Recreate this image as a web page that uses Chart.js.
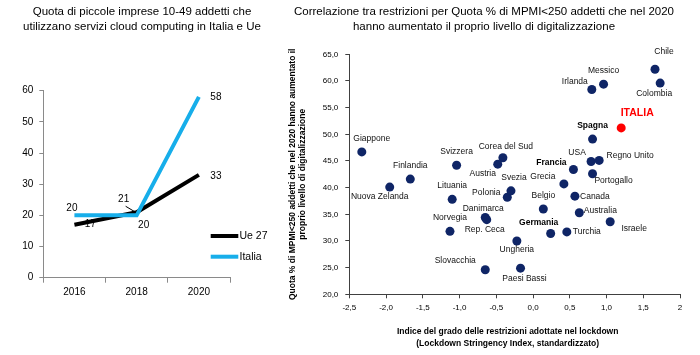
<!DOCTYPE html>
<html><head><meta charset="utf-8">
<script src="https://cdn.jsdelivr.net/npm/chart.js@4"></script>
<style>
html,body{margin:0;padding:0;background:#fff;}
#wrap{position:relative;width:700px;height:355px;overflow:hidden;background:#fff;}
#c1{position:absolute;left:0;top:0;}
#c2{position:absolute;left:265px;top:0;}
</style></head><body>
<div id="wrap">
<canvas id="c1" width="270" height="355"></canvas>
<canvas id="c2" width="435" height="355"></canvas>
</div>
<script>
const FONT = '"Liberation Sans", Arial, sans-serif';

// ---------- Left chart data ----------
const years = ['2016', '2018', '2020'];
const ue27 = [17, 21, 33];
const italia = [20, 20, 58];
const leftTitle = ['Quota di piccole imprese 10-49 addetti che', 'utilizzano servizi cloud computing in Italia e Ue'];

// ---------- Right chart data ----------
const countries = ['Giappone','Nuova Zelanda','Finlandia','Svizzera','Lituania','Norvegia','Slovacchia','Danimarca','Rep. Ceca','Paesi Bassi','Ungheria','Germania','Belgio','Turchia','Australia','Canada','Israele','Polonia','Svezia','Corea del Sud','Austria','Grecia','Francia','USA','Regno Unito','Portogallo','Spagna','ITALIA','Irlanda','Messico','Chile','Colombia'];
const stringency = [-2.33,-1.95,-1.67,-1.04,-1.10,-1.13,-0.65,-0.65,-0.63,-0.17,-0.22,0.24,0.14,0.46,0.63,0.57,1.05,-0.35,-0.30,-0.41,-0.48,0.42,0.55,0.79,0.90,0.81,0.81,1.20,0.80,0.96,1.66,1.73];
const digitalShare = [46.7,40.1,41.6,44.2,37.8,31.8,24.6,34.4,34.0,24.9,30.0,31.4,36.0,31.7,35.3,38.4,33.6,38.2,39.4,45.6,44.4,40.7,43.4,44.9,45.1,42.6,49.1,51.2,58.4,59.4,62.2,59.6];
const xTickLabels = ['-2,5','-2,0','-1,5','-1,0','-0,5','0,0','0,5','1,0','1,5','2'];
const yTickLabels = ['20,0','25,0','30,0','35,0','40,0','45,0','50,0','55,0','60,0','65,0'];
const rightTitle = ['Correlazione tra restrizioni per Quota % di MPMI<250 addetti che nel 2020', 'hanno aumentato il proprio livello di digitalizzazione'];
const yAxisTitle = ['Quota % di MPMI<250 addetti che nel 2020 hanno aumentato il', 'proprio livello di digitalizzazione'];
const xAxisTitle = ['Indice del grado delle restrizioni adottate nel lockdown', '(Lockdown Stringency Index, standardizzato)'];
const highlighted = ['Spagna', 'Francia', 'Germania'];
const focusCountry = 'ITALIA';

// ---------- layout / style (not data) ----------
const leftLabelOffsets = [[[16,0],[-13,-13],[17,1]], [[-2.5,-7],[7,10],[17,0]]];
const countryLabelOffsets = {
 'Giappone':[10,-13],'Nuova Zelanda':[-10,9.5],'Finlandia':[0,-13],'Svizzera':[0,-14],'Lituania':[0,-13.5],
 'Norvegia':[0,-14],'Slovacchia':[-30,-9.5],'Danimarca':[-2,-9],'Rep. Ceca':[-2,10],'Paesi Bassi':[4,10],
 'Ungheria':[0,9],'Germania':[-12,-11],'Belgio':[0,-13],'Turchia':[20,0],'Australia':[21,-2.5],'Canada':[20,0],
 'Israele':[24,7],'Polonia':[-21,-5],'Svezia':[3,-13],'Corea del Sud':[3,-11.5],'Austria':[-15,9],'Grecia':[-21,-7.5],
 'Francia':[-22,-6.5],'USA':[-14,-9],'Regno Unito':[31,-5],'Portogallo':[21,7],'Spagna':[0,-13],'ITALIA':[16,-15],
 'Irlanda':[-17,-8],'Messico':[0,-14],'Chile':[9,-18],'Colombia':[-6,11]
};
const NAVY = '#0f2566';
const BLUE = '#17aeea';

// ---------- Left chart ----------
const leftDecor = {
  id: 'leftDecor',
  beforeDatasetsDraw(chart) {
    const ctx = chart.ctx;
    ctx.save();
    ctx.font = '10px ' + FONT;
    ctx.fillStyle = '#000';
    ctx.textAlign = 'center';
    ctx.textBaseline = 'middle';
    chart.data.datasets.forEach((ds, di) => {
      const meta = chart.getDatasetMeta(di);
      meta.data.forEach((pt, i) => {
        const o = leftLabelOffsets[di][i];
        ctx.fillText(String(ds.data[i]), pt.x + o[0], pt.y + o[1]);
      });
    });
    // leader line for Ue 27 2018 label
    const p = chart.getDatasetMeta(0).data[1];
    const o = leftLabelOffsets[0][1];
    ctx.strokeStyle = '#000';
    ctx.lineWidth = 1;
    ctx.beginPath();
    ctx.moveTo(p.x + o[0] + 2, p.y + o[1] + 7);
    ctx.lineTo(p.x - 1, p.y);
    ctx.stroke();
    ctx.restore();
  },
  afterDraw(chart) {
    const ctx = chart.ctx, a = chart.chartArea;
    ctx.save();
    ctx.fillStyle = '#000';
    ctx.textAlign = 'center';
    ctx.textBaseline = 'middle';
    ctx.font = '11.5px ' + FONT;
    ctx.fillText(leftTitle[0], 142, 12);
    ctx.fillText(leftTitle[1], 142, 27);
    // legend
    ctx.textAlign = 'left';
    ctx.font = '10.5px ' + FONT;
    chart.data.datasets.forEach((ds, i) => {
      const y = a.bottom - 41.7 + i * 20.7;
      ctx.strokeStyle = ds.borderColor;
      ctx.lineWidth = 4;
      ctx.beginPath();
      ctx.moveTo(a.right - 19.3, y);
      ctx.lineTo(a.right + 8.3, y);
      ctx.stroke();
      ctx.fillText(ds.label, a.right + 9.5, y + 0.5);
    });
    ctx.restore();
  }
};

new Chart(document.getElementById('c1'), {
  type: 'line',
  data: {
    labels: years,
    datasets: [
      { label: 'Ue 27', data: ue27, borderColor: '#000', backgroundColor: '#000', borderWidth: 4, pointRadius: 0, tension: 0, order: 2 },
      { label: 'Italia', data: italia, borderColor: BLUE, backgroundColor: BLUE, borderWidth: 4, pointRadius: 0, tension: 0, order: 1 }
    ]
  },
  options: {
    responsive: false, animation: false,
    layout: { padding: { left: 0, right: 40, top: 90.7, bottom: 0 } },
    plugins: { legend: { display: false }, tooltip: { enabled: false }, title: { display: false } },
    scales: {
      x: {
        offset: true,
        grid: { offset: true, drawOnChartArea: false, drawTicks: true, tickLength: 5, color: '#8a8a8a' },
        border: { color: '#8a8a8a', width: 1 },
        ticks: { font: { family: FONT, size: 10 }, color: '#000', padding: 4, maxRotation: 0 },
        afterFit(s) { s.height = 77.3; }
      },
      y: {
        min: 0, max: 60,
        ticks: { stepSize: 10, font: { family: FONT, size: 10 }, color: '#000', padding: 6 },
        grid: { drawOnChartArea: false, drawTicks: true, tickLength: 4, color: '#8a8a8a' },
        border: { color: '#8a8a8a', width: 1 },
        afterFit(s) { s.width = 43.3; }
      }
    }
  },
  plugins: [leftDecor]
});

// ---------- Right chart ----------
const rightDecor = {
  id: 'rightDecor',
  afterDatasetsDraw(chart) {
    const ctx = chart.ctx;
    const meta = chart.getDatasetMeta(0);
    ctx.save();
    ctx.textAlign = 'center';
    ctx.textBaseline = 'middle';
    countries.forEach((c, i) => {
      const pt = meta.data[i];
      const o = countryLabelOffsets[c] || [0, -12];
      if (c === focusCountry) {
        ctx.font = 'bold 10.5px ' + FONT;
        ctx.fillStyle = '#ff0000';
      } else if (highlighted.includes(c)) {
        ctx.font = 'bold 8.5px ' + FONT;
        ctx.fillStyle = '#000';
      } else {
        ctx.font = '8.5px ' + FONT;
        ctx.fillStyle = '#111';
      }
      ctx.fillText(c, pt.x + o[0], pt.y + o[1]);
    });
    ctx.restore();
  },
  afterDraw(chart) {
    const ctx = chart.ctx, a = chart.chartArea;
    ctx.save();
    ctx.fillStyle = '#000';
    ctx.textAlign = 'center';
    ctx.textBaseline = 'middle';
    ctx.font = '11.5px ' + FONT;
    ctx.fillText(rightTitle[0], 219, 12);
    ctx.fillText(rightTitle[1], 219, 27);
    ctx.font = 'bold 8.5px ' + FONT;
    const cx = (a.left + a.right) / 2 - 7;
    ctx.fillText(xAxisTitle[0], cx, a.bottom + 37.4);
    ctx.fillText(xAxisTitle[1], cx, a.bottom + 49.7);
    const cy = (a.top + a.bottom) / 2;
    ctx.translate(28, cy);
    ctx.rotate(-Math.PI / 2);
    ctx.fillText(yAxisTitle[0], 0, 0);
    ctx.fillText(yAxisTitle[1], 0, 10);
    ctx.restore();
  }
};

new Chart(document.getElementById('c2'), {
  type: 'scatter',
  data: {
    datasets: [{
      label: 'Paesi',
      data: countries.map((c, i) => ({ x: stringency[i], y: digitalShare[i] })),
      pointRadius: 4.5,
      pointBorderWidth: 0,
      pointBackgroundColor: countries.map(c => c === focusCountry ? '#ff0000' : NAVY),
      pointBorderColor: countries.map(c => c === focusCountry ? '#ff0000' : NAVY)
    }]
  },
  options: {
    responsive: false, animation: false,
    layout: { padding: { left: 0, right: 20, top: 54.3, bottom: 0 } },
    plugins: { legend: { display: false }, tooltip: { enabled: false }, title: { display: false } },
    scales: {
      x: {
        type: 'linear', min: -2.5, max: 2,
        ticks: { stepSize: 0.5, font: { family: FONT, size: 8 }, color: '#000', padding: 5, maxRotation: 0,
                 callback: (v, i) => xTickLabels[i] },
        grid: { drawOnChartArea: false, drawTicks: true, tickLength: 4, color: '#404040' },
        border: { color: '#404040', width: 1 },
        afterFit(s) { s.height = 60.7; }
      },
      y: {
        type: 'linear', min: 20, max: 65,
        ticks: { stepSize: 5, font: { family: FONT, size: 8 }, color: '#000', padding: 7,
                 callback: (v, i) => yTickLabels[i] },
        grid: { drawOnChartArea: false, drawTicks: true, tickLength: 4, color: '#404040' },
        border: { color: '#404040', width: 1 },
        afterFit(s) { s.width = 84.3; }
      }
    }
  },
  plugins: [rightDecor]
});
</script>
</body></html>
